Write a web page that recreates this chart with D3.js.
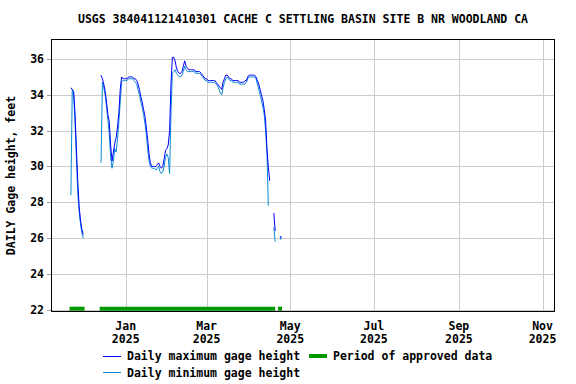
<!DOCTYPE html>
<html><head><meta charset="utf-8">
<script src="https://cdn.jsdelivr.net/npm/d3@7"></script>
<style>
body{margin:0;background:#fff}
text{font-family:"DejaVu Sans Mono","Liberation Mono",monospace;font-weight:bold;font-size:11.5px;fill:#000}
</style>
</head><body>
<svg id="chart" width="576" height="384"></svg>
<script>
const title = "USGS 384041121410301 CACHE C SETTLING BASIN SITE B NR WOODLAND CA";
const yTitle = "DAILY Gage height, feet";
const startDate = "2024-11-22";
const maxValues = [
 34.4,34.3,34.2,33.0,31.1,29.2,27.8,27.0,26.5,26.2,
 null,null,null,null,null,null,null,null,null,null,null,null,
 35.1,34.9,34.6,34.2,33.6,32.9,32.5,31.2,30.3,30.8,31.3,31.6,32.2,33.0,34.3,35.0,34.9,34.9,
 34.9,34.9,35.0,35.0,35.0,35.0,34.9,34.9,34.8,34.6,34.3,33.9,33.6,33.2,32.8,32.2,31.5,30.7,30.2,30.0,
 30.0,30.0,30.0,30.1,30.2,30.0,29.9,30.0,30.4,30.9,31.0,31.2,32.0,34.6,36.1,36.1,35.9,35.5,35.3,35.2,
 35.2,35.3,35.6,35.9,35.6,35.5,35.4,35.4,35.4,35.4,35.4,35.3,35.3,35.3,35.3,35.2,35.1,35.0,34.9,34.9,
 34.8,34.8,34.8,34.8,34.8,34.8,34.7,34.6,34.5,34.4,34.3,34.7,34.9,35.1,35.1,35.0,34.9,34.9,34.8,34.8,
 34.8,34.8,34.8,34.7,34.7,34.7,34.7,34.8,34.8,35.0,35.1,35.1,35.1,35.1,35.1,35.0,34.8,34.6,34.3,34.0,
 33.7,33.2,32.6,31.0,30.0,29.2,null,null,27.4,26.4,null,null,null,26.05
];
const minValues = [
 28.4,34.3,34.0,32.5,30.5,28.5,27.5,26.8,26.3,26.0,
 null,null,null,null,null,null,null,null,null,null,null,null,
 30.2,34.7,34.4,34.0,33.3,32.6,31.8,30.5,29.9,30.3,31.0,30.8,31.5,32.5,33.6,34.7,34.8,34.8,
 34.8,34.8,34.9,34.9,34.9,34.9,34.8,34.7,34.6,34.3,34.0,33.6,33.3,32.9,32.4,31.8,31.0,30.3,30.0,29.9,
 29.9,29.9,29.8,29.9,30.0,29.7,29.6,29.7,30.0,30.5,30.7,30.5,29.6,33.0,35.2,35.3,35.4,35.2,35.1,35.0,
 35.0,35.1,35.3,35.6,35.4,35.3,35.3,35.3,35.3,35.3,35.3,35.2,35.2,35.2,35.2,35.1,35.0,34.9,34.8,34.8,
 34.7,34.7,34.7,34.7,34.7,34.7,34.6,34.5,34.3,34.1,34.0,34.4,34.7,34.9,35.0,34.9,34.8,34.8,34.7,34.7,
 34.7,34.7,34.7,34.6,34.6,34.6,34.6,34.6,34.7,34.9,35.0,35.0,35.0,35.0,35.0,34.9,34.6,34.3,34.0,33.7,
 33.3,32.9,32.0,30.8,27.8,null,null,null,26.6,25.8,null,null,null,25.95
];
const approvedPeriods = [
 ["2024-11-21","2024-12-02"],
 ["2024-12-13","2025-04-20"],
 ["2025-04-22","2025-04-25"]
];
const yTicks = [22,24,26,28,30,32,34,36];
const xTickDates = ["2025-01-01","2025-03-01","2025-05-01","2025-07-01","2025-09-01","2025-11-01"];
const xTickMonths = ["Jan","Mar","May","Jul","Sep","Nov"];
const xTickYears = ["2025","2025","2025","2025","2025","2025"];
const legendLabels = ["Daily maximum gage height","Daily minimum gage height","Period of approved data"];

const colMax = "#0000ff", colMin = "#0a8ad6", colApproved = "#009a00", colGrid = "#cccccc";
const L = 51, R = 555, T = 39, B = 312;
const svg = d3.select("#chart");
const parse = d3.utcParse("%Y-%m-%d");
const t0 = parse(startDate);
const dayDate = i => d3.utcDay.offset(t0, i);

const x = d3.scaleUtc()
  .domain([new Date(Date.UTC(2024,10,7,12)), new Date(Date.UTC(2025,10,10,2))])
  .range([L, R]);
const y = d3.scaleLinear().domain([21.87, 37.12]).range([B, T]);

// grid
const g = svg.append("g");
g.selectAll("line.hg").data(yTicks).join("line")
  .attr("x1", L).attr("x2", R)
  .attr("y1", d => Math.round(y(d)) + 0.5).attr("y2", d => Math.round(y(d)) + 0.5)
  .attr("stroke", colGrid).attr("stroke-width", 1);
g.selectAll("line.vg").data(xTickDates).join("line")
  .attr("y1", T).attr("y2", B)
  .attr("x1", d => Math.round(x(parse(d))) + 0.5).attr("x2", d => Math.round(x(parse(d))) + 0.5)
  .attr("stroke", colGrid).attr("stroke-width", 1);
// y ticks outside
g.selectAll("line.yt").data(yTicks).join("line")
  .attr("x1", L - 4).attr("x2", L)
  .attr("y1", d => Math.round(y(d)) + 0.5).attr("y2", d => Math.round(y(d)) + 0.5)
  .attr("stroke", "#999").attr("stroke-width", 1);

// approved periods
svg.append("g").selectAll("line").data(approvedPeriods).join("line")
  .attr("x1", d => x(parse(d[0]))).attr("x2", d => x(parse(d[1])))
  .attr("y1", y(22) - 1).attr("y2", y(22) - 1)
  .attr("stroke", colApproved).attr("stroke-width", 4);

// series
function drawSeries(vals, color) {
  const pts = vals.map((v, i) => ({d: dayDate(i), v}));
  const line = d3.line().defined(p => p.v != null).x(p => x(p.d)).y(p => y(p.v));
  svg.append("path").datum(pts).attr("d", line)
    .attr("fill", "none").attr("stroke", color).attr("stroke-width", 1);
  const iso = pts.filter((p, i) => p.v != null && (i === 0 || vals[i-1] == null) && (i === vals.length - 1 || vals[i+1] == null));
  svg.append("g").selectAll("rect").data(iso).join("rect")
    .attr("x", p => x(p.d) - 0.75).attr("y", p => y(p.v) - 1)
    .attr("width", 1.5).attr("height", 1.5).attr("fill", color);
}
drawSeries(minValues, colMin);
drawSeries(maxValues, colMax);

// frame
svg.append("rect").attr("x", L + 0.5).attr("y", T + 0.5).attr("width", R - L - 1).attr("height", B - T - 1)
  .attr("fill", "none").attr("stroke", "#000").attr("stroke-width", 1);

// y labels
svg.append("g").selectAll("text").data(yTicks).join("text")
  .attr("x", 44).attr("y", d => y(d)).attr("dy", "0.35em").attr("text-anchor", "end").text(d => d);
// x labels
const xl = svg.append("g");
xl.selectAll("text.m").data(xTickDates).join("text")
  .attr("x", d => x(parse(d))).attr("y", 330).attr("text-anchor", "middle")
  .text((d, i) => xTickMonths[i]);
xl.selectAll("text.yy").data(xTickDates).join("text")
  .attr("x", d => x(parse(d))).attr("y", 343).attr("text-anchor", "middle")
  .text((d, i) => xTickYears[i]);

// title
svg.append("text").attr("x", (L + R) / 2).attr("y", 23).attr("text-anchor", "middle").text(title);
svg.append("text").attr("transform", `translate(15,${(T + B) / 2}) rotate(-90)`)
  .attr("text-anchor", "middle").text(yTitle);

// legend
const lg = svg.append("g");
lg.append("line").attr("x1", 103).attr("x2", 121).attr("y1", 356.5).attr("y2", 356.5).attr("stroke", colMax).attr("stroke-width", 1);
lg.append("text").attr("x", 127).attr("y", 360).text(legendLabels[0]);
lg.append("line").attr("x1", 103).attr("x2", 121).attr("y1", 372.5).attr("y2", 372.5).attr("stroke", colMin).attr("stroke-width", 1);
lg.append("text").attr("x", 127).attr("y", 376.5).text(legendLabels[1]);
lg.append("line").attr("x1", 309).attr("x2", 327).attr("y1", 356).attr("y2", 356).attr("stroke", colApproved).attr("stroke-width", 4);
lg.append("text").attr("x", 333).attr("y", 360).text(legendLabels[2]);
</script>
</body></html>
